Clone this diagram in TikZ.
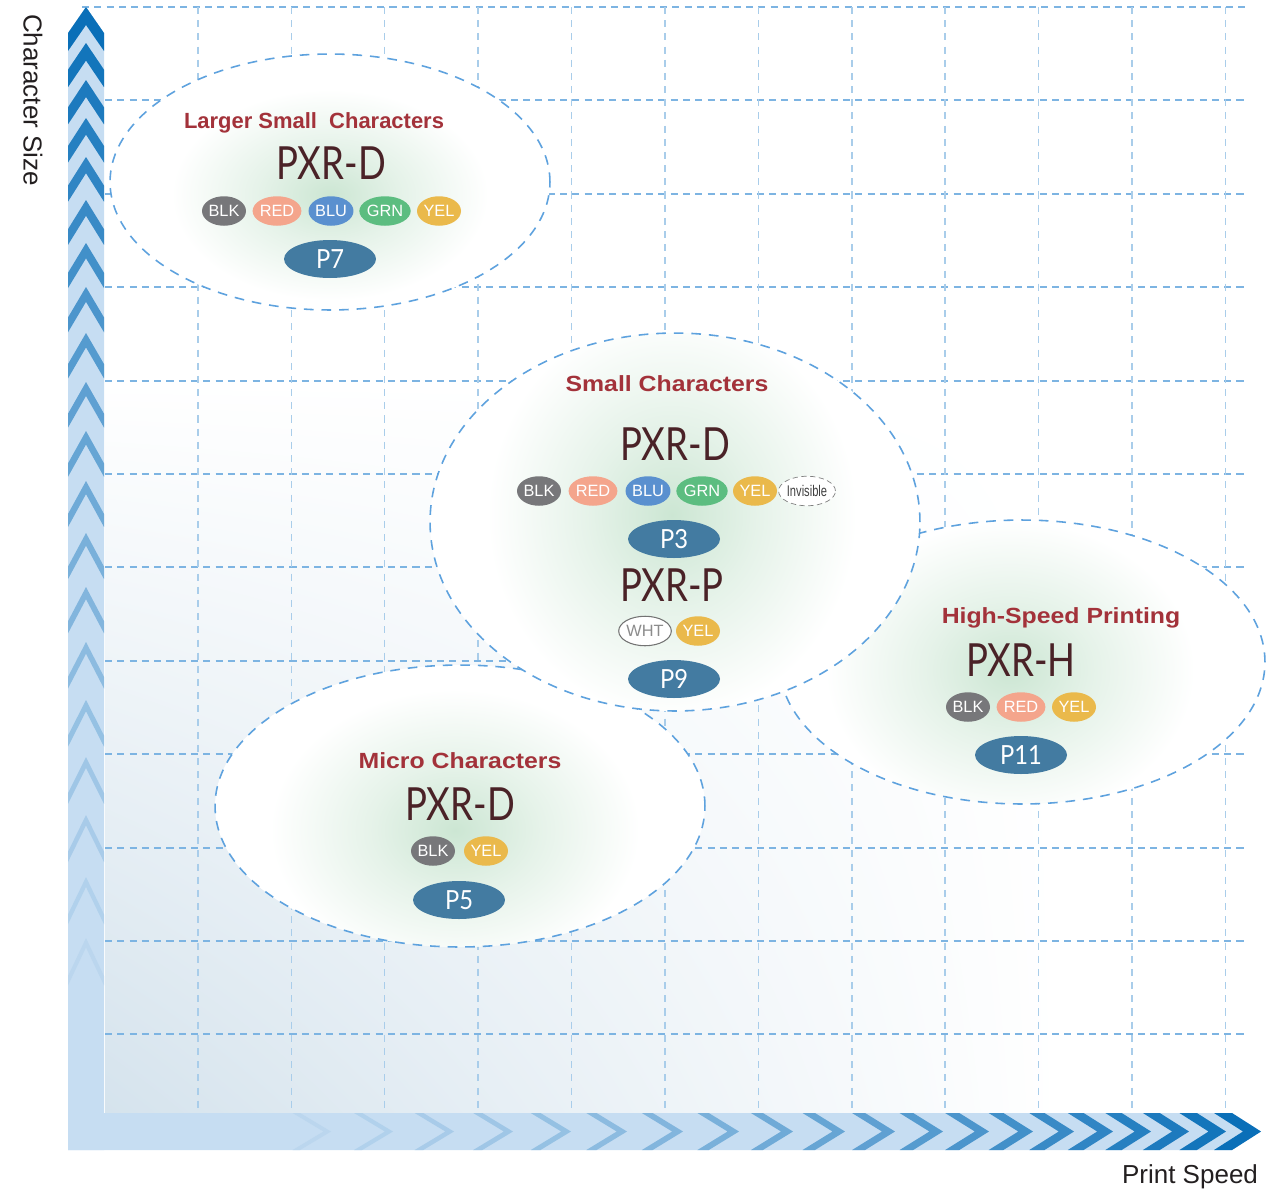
\documentclass[tikz,border=0pt]{standalone}
\usepackage{fontspec}
\setmainfont{Liberation Sans}
\newfontfamily\titlef[FakeStretch=1.13]{Liberation Sans}
\newfontfamily\titlefn[FakeStretch=1.0]{Liberation Sans}
\newfontfamily\pxrf[FakeStretch=0.8]{Lato}
\newfontfamily\pillf[FakeStretch=0.9]{Lato}
\newfontfamily\condf[FakeStretch=0.72]{Liberation Sans}
\usetikzlibrary{shapes.geometric,shadings}

\definecolor{band}{HTML}{C6DDF2}
\definecolor{chev}{HTML}{0A6FB8}
\definecolor{gridh}{HTML}{7DB4E2}
\definecolor{gridv}{HTML}{A9CDEA}
\definecolor{bord}{HTML}{5EA2DE}
\definecolor{bgc}{HTML}{D5E3ED}
\definecolor{glowc}{HTML}{CCE6D3}
\definecolor{ttlc}{HTML}{A3323A}
\definecolor{pxrc}{HTML}{4A2227}
\definecolor{pillc}{HTML}{437BA1}
\definecolor{cblk}{HTML}{77777A}
\definecolor{cred}{HTML}{F4A58C}
\definecolor{cblu}{HTML}{5A90CF}
\definecolor{cgrn}{HTML}{5CBD80}
\definecolor{cyel}{HTML}{EAB94B}
\definecolor{axtxt}{HTML}{231F20}

\pgfdeclareradialshading{glow}{\pgfpoint{0bp}{0bp}}{color(0bp)=(glowc); color(10bp)=(glowc!50!white); color(22bp)=(white); color(25bp)=(white); color(50bp)=(white)}

\newcommand\mybubble[8]{%
  \fill[white] (#1,#2) ellipse [x radius=#3cm, y radius=#4cm];
  \begin{scope}
    \clip (#1,#2) ellipse [x radius=#3cm, y radius=#4cm];
    \shade[shading=glow] (#5,#6) ellipse [x radius=#7cm, y radius=#8cm];
  \end{scope}
  \draw[bub] (#1,#2) ellipse [x radius=#3cm, y radius=#4cm];
}

\begin{document}
\begin{tikzpicture}[x=0.02cm, y=-0.02cm,
  gh/.style={draw=gridh, line width=1.1pt, dash pattern=on 4pt off 3pt},
  gv/.style={draw=gridv, line width=0.9pt, dash pattern=on 4pt off 3.5pt},
  bub/.style={draw=bord, line width=0.9pt, dash pattern=on 5.5pt off 4.5pt},
  chip/.style={ellipse, minimum width=0.88cm, minimum height=0.59cm, inner sep=0pt, text=white, font=\fontsize{9.3}{9}\selectfont},
  pill/.style={ellipse, fill=pillc, minimum width=1.84cm, minimum height=0.76cm, inner sep=0pt, text=white, font=\pillf\fontsize{15}{15}\selectfont},
  model/.style={text=pxrc, font=\pxrf\fontsize{26}{26}\selectfont, inner sep=0pt},
  ttl/.style={text=ttlc, font=\titlef\bfseries\fontsize{12.5}{12}\selectfont, inner sep=0pt, anchor=base},
  axl/.style={text=axtxt, font=\fontsize{14.8}{15}\selectfont, inner sep=0pt}
]
\useasboundingbox (0,0) rectangle (1280,1190);

% background gradient
\shade[upper left=white, upper right=white, lower left=bgc, lower right=white] (105,380) rectangle (1060,1113);

% grid
\draw[gh] (82,7) -- (1245,7);
\foreach \k in {1,...,11}{
  \draw[gh] (105,{7+93.4*\k}) -- (1245,{7+93.4*\k});
}
\foreach \k in {1,...,12}{
  \draw[gv] ({104.5+93.4*\k},7) -- ({104.5+93.4*\k},1113);
}

% bubbles
\mybubble{330}{182}{4.4}{2.56}{330}{195}{3.6}{2.4}
\mybubble{1022}{662}{4.86}{2.84}{1010}{670}{4.2}{3.4}
\mybubble{460}{806}{4.9}{2.82}{455}{830}{4.2}{3.2}
\mybubble{675}{522}{4.9}{3.78}{672}{515}{4.2}{4.6}

% axis bands
\fill[band] (68,1150) -- (68,33) -- (86,7) -- (104,33) -- (104,1150) -- cycle;
\fill[band] (68,1113) -- (1232,1113) -- (1261,1131.5) -- (1232,1150) -- (68,1150) -- cycle;

\foreach \i/\ov/\oh in {0/0/0, 1/36/35, 2/73/72, 3/111/110, 4/150/148, 5/193/187, 6/236/228, 7/280/272, 8/326/318, 9/375/366, 10/424/416, 11/474/468, 12/526/522, 13/580/578, 14/635/634, 15/693/690, 16/750/748, 17/808/807, 18/870/868, 19/931/930}{
  \pgfmathsetmacro\A{7+\ov}
  \pgfmathsetmacro\hv{26+0.63*\i}
  \pgfmathsetmacro\tv{18-0.45*\i}
  \pgfmathtruncatemacro\pv{100-4.9*\i}
  \colorlet{cv}{chev!\pv!band}
  \fill[cv] (86,\A) -- (104,{\A+\hv}) -- (104,{\A+\hv+\tv}) -- (86,{\A+\tv}) -- (68,{\A+\hv+\tv}) -- (68,{\A+\hv}) -- cycle;
  \pgfmathsetmacro\X{1261-\oh}
  \pgfmathsetmacro\hh{29+0.1*\i}
  \pgfmathsetmacro\th{18-0.55*\i}
  \fill[cv] (\X,1131.5) -- ({\X-\hh},1113) -- ({\X-\hh-\th},1113) -- ({\X-\th},1131.5) -- ({\X-\hh-\th},1150) -- ({\X-\hh},1150) -- cycle;
}

% axis labels
\node[axl, rotate=-90] (ylab) at (33,100) {Character Size};
\node[axl] (xlab) at (1190,1177) {Print Speed};

% Larger Small Characters
\node[ttl, font=\titlefn\bfseries\fontsize{12.5}{12}\selectfont] (t1) at (314,128) {Larger Small\ \ Characters};
\node[model] (m1) at (331,163) {PXR-D};
\node[chip, fill=cblk] (c1a) at (224,211) {BLK};
\node[chip, fill=cred] (c1b) at (277,211) {RED};
\node[chip, fill=cblu] (c1c) at (331,211) {BLU};
\node[chip, fill=cgrn] (c1d) at (385,211) {GRN};
\node[chip, fill=cyel] (c1e) at (439,211) {YEL};
\node[pill] (p7) at (330,259) {P7};

% Small Characters
\node[ttl] (t2) at (667,391) {Small Characters};
\node[model] (m2) at (675,444) {PXR-D};
\node[chip, fill=cblk] (c2a) at (539,491) {BLK};
\node[chip, fill=cred] (c2b) at (593,491) {RED};
\node[chip, fill=cblu] (c2c) at (648,491) {BLU};
\node[chip, fill=cgrn] (c2d) at (702,491) {GRN};
\node[chip, fill=cyel] (c2e) at (755,491) {YEL};
\node[chip, fill=white, draw=gray, densely dashed, line width=0.4pt, text=black!75, font=\condf\fontsize{8.8}{9}\selectfont] (c2f) at (807,491) {Invisible};
\node[pill] (p3) at (674,539) {P3};
\node[model] (m3) at (672,585) {PXR-P};
\node[chip, fill=white, draw=black!55, line width=0.6pt, text=black!45] (c3a) at (645,631) {WHT};
\node[chip, fill=cyel] (c3b) at (698,631) {YEL};
\node[pill] (p9) at (674,679) {P9};

% High-Speed Printing
\node[ttl] (t3) at (1061,623) {High-Speed Printing};
\node[model] (m4) at (1021,660) {PXR-H};
\node[chip, fill=cblk] (c4a) at (968,707) {BLK};
\node[chip, fill=cred] (c4b) at (1021,707) {RED};
\node[chip, fill=cyel] (c4c) at (1074,707) {YEL};
\node[pill] (p11) at (1021,755) {P11};

% Micro Characters
\node[ttl] (t4) at (460,768) {Micro Characters};
\node[model] (m5) at (460,804) {PXR-D};
\node[chip, fill=cblk] (c5a) at (433,851) {BLK};
\node[chip, fill=cyel] (c5b) at (486,851) {YEL};
\node[pill] (p5) at (459,900) {P5};
\end{tikzpicture}
\end{document}
